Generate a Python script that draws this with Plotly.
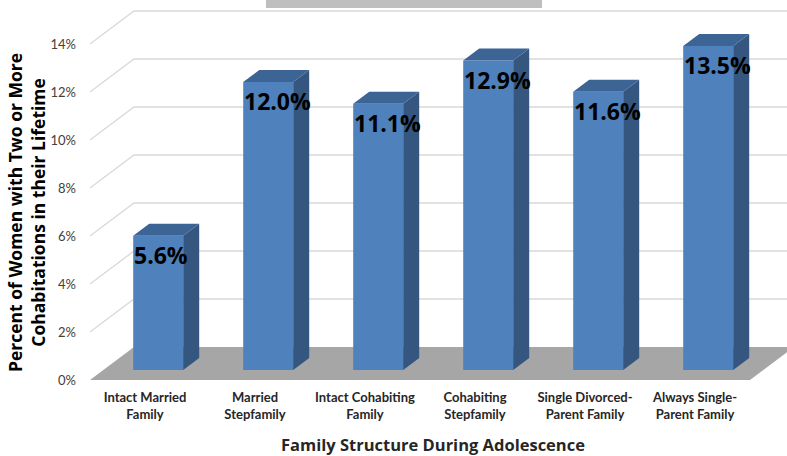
import plotly.graph_objects as go

# ---------------- data ----------------
categories = ["Intact Married<br>Family", "Married<br>Stepfamily", "Intact Cohabiting<br>Family",
              "Cohabiting<br>Stepfamily", "Single Divorced-<br>Parent Family", "Always Single-<br>Parent Family"]
values = [0.056, 0.120, 0.111, 0.129, 0.116, 0.135]
value_labels = ["5.6%", "12.0%", "11.1%", "12.9%", "11.6%", "13.5%"]
y_ticks = [0, 0.02, 0.04, 0.06, 0.08, 0.10, 0.12, 0.14]
y_title = "Percent of Women with Two or More<br>Cohabitations in their Lifetime"
x_title = "Family Structure During Adolescence"

# ---------------- 3D projection parameters ----------------
DX = 0.4        # x shift (category units) for full depth
DY = 0.01375    # y shift (value units) for full depth
F0 = 0.30       # depth of bar front face
FB = 0.364      # bar depth
W = 0.4545      # bar width

FRONT = "#4F81BD"
SIDE = "#34567F"
TOP = "#3C6495"
FLOOR = "#A6A6A6"
GRID = "#D9D9D9"

n = len(categories)
fig = go.Figure()

# back-wall gridlines (with diagonal on the left wall) -- base axes
gx, gy = [], []
for v in y_ticks[1:]:
    gx += [-0.5, -0.5 + DX, n - 0.5 + DX + 1, None]
    gy += [v, v + DY, v + DY, None]
fig.add_trace(go.Scatter(x=gx, y=gy, mode="lines", line=dict(color=GRID, width=1.3),
                         hoverinfo="skip", showlegend=False, xaxis="x", yaxis="y"))

# floor
fig.add_trace(go.Scatter(x=[-0.5, n - 0.5, n - 0.5 + DX, -0.5 + DX, -0.5],
                         y=[0, 0, DY, DY, 0], mode="lines", fill="toself",
                         fillcolor=FLOOR, line=dict(width=0), hoverinfo="skip",
                         showlegend=False, xaxis="x", yaxis="y"))

# bars on overlay axes (drawn above walls)
base = F0 * DY
ddx, ddy = FB * DX, FB * DY
fig.add_trace(go.Bar(x=[i + F0 * DX for i in range(n)], y=values, base=base, width=W,
                     marker=dict(color=FRONT, line=dict(width=0)), hoverinfo="skip",
                     showlegend=False, xaxis="x2", yaxis="y2"))
for i, v in enumerate(values):
    xc = i + F0 * DX
    xl, xr = xc - W / 2, xc + W / 2
    top = v + base
    fig.add_trace(go.Scatter(x=[xr, xr + ddx, xr + ddx, xr, xr],
                             y=[base, base + ddy, top + ddy, top, base],
                             mode="lines", fill="toself", fillcolor=SIDE,
                             line=dict(width=0), hoverinfo="skip", showlegend=False,
                             xaxis="x2", yaxis="y2"))
    fig.add_trace(go.Scatter(x=[xl, xr, xr + ddx, xl + ddx, xl],
                             y=[top, top, top + ddy, top + ddy, top],
                             mode="lines", fill="toself", fillcolor=TOP,
                             line=dict(width=0), hoverinfo="skip", showlegend=False,
                             xaxis="x2", yaxis="y2"))

annotations = []
for i, (v, lab) in enumerate(zip(values, value_labels)):
    xl = i + F0 * DX - W / 2
    annotations.append(dict(x=xl, y=v + base, xref="x2", yref="y2", text=lab, showarrow=False,
                            xanchor="left", yanchor="top", xshift=-1, yshift=-1,
                            font=dict(family="Open Sans", size=23, color="black", weight="bold")))

L, B = 84, 70
PW, PH = 787 - L, 456 - B
annotations.append(dict(xref="paper", yref="paper", x=(27 - L) / PW, y=1 - 213 / PH,
                        text="<b>" + y_title + "</b>", textangle=-90, showarrow=False,
                        xanchor="center", yanchor="middle",
                        font=dict(family="Open Sans", size=17.5, color="black")))
annotations.append(dict(xref="paper", yref="paper", x=(433 - L) / PW, y=1 - 444 / PH,
                        text="<b>" + x_title + "</b>", showarrow=False,
                        xanchor="center", yanchor="middle",
                        font=dict(family="Open Sans", size=16.5, color="#262626")))

x_lo = -0.5 + (L - 90) / 110
x_hi = x_lo + PW / 110
y_hi = 380 / 24 / 100
y_lo = y_hi - PH / 24 / 100

hidden = dict(showgrid=False, zeroline=False, showline=False, ticks="", showticklabels=False)
fig.update_layout(
    width=787, height=456,
    margin=dict(l=L, r=0, t=0, b=B),
    paper_bgcolor="white", plot_bgcolor="white",
    annotations=annotations,
    shapes=[dict(type="rect", xref="paper", yref="paper", x0=(266 - L) / PW, x1=(542 - L) / PW,
                 y0=1 - 8 / PH, y1=1.02, fillcolor="#BFBFBF", line=dict(width=0), layer="above")],
    xaxis=dict(range=[x_lo, x_hi], tickvals=list(range(n)), ticktext=categories,
               showgrid=False, zeroline=False, showline=False, ticks="", ticklabelstandoff=2,
               tickfont=dict(family="Lato", size=13, color="#262626", weight="bold")),
    yaxis=dict(range=[y_lo, y_hi], tickvals=y_ticks, tickformat=".0%",
               showgrid=False, zeroline=False, showline=False, ticks="", ticklabelstandoff=7,
               tickfont=dict(family="Lato", size=13, color="#404040")),
    xaxis2=dict(range=[x_lo, x_hi], overlaying="x", **hidden),
    yaxis2=dict(range=[y_lo, y_hi], overlaying="y", **hidden),
)

fig.write_html("out.html", config={"displayModeBar": False})
